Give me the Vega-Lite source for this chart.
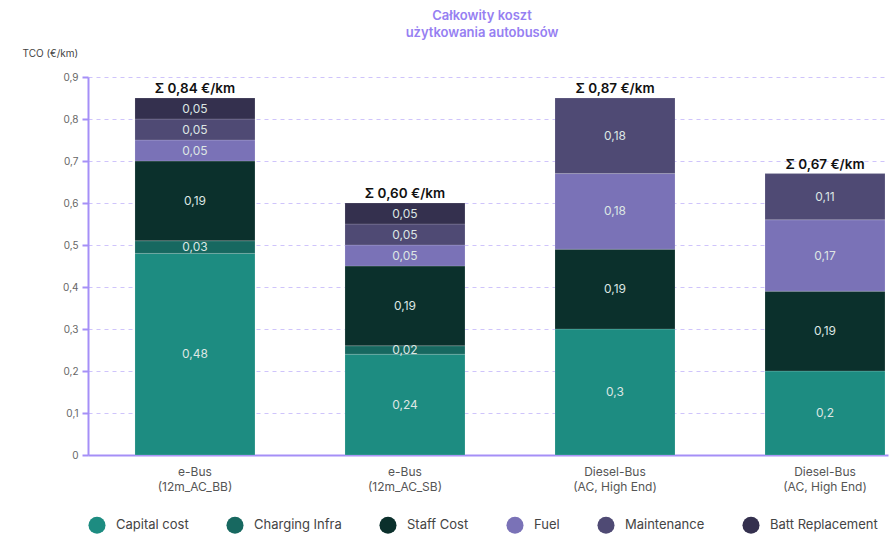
{
  "$schema": "https://vega.github.io/schema/vega-lite/v6.json",
  "autosize": "none",
  "width": 800,
  "height": 378,
  "padding": {"left": 88, "top": 77, "right": 4, "bottom": 81},
  "background": "white",
  "title": {
    "text": ["Całkowity koszt", "użytkowania autobusów"],
    "color": "#9680f2",
    "fontSize": 13,
    "fontWeight": 600,
    "lineHeight": 17,
    "anchor": "middle",
    "dx": -6,
    "offset": 8
  },
  "data": {
    "values": [
      {"bus": "e-Bus|(12m_AC_BB)|1", "cost": "Capital cost", "value": 0.48, "total": 0.84},
      {"bus": "e-Bus|(12m_AC_BB)|1", "cost": "Charging Infra", "value": 0.03, "total": 0.84},
      {"bus": "e-Bus|(12m_AC_BB)|1", "cost": "Staff Cost", "value": 0.19, "total": 0.84},
      {"bus": "e-Bus|(12m_AC_BB)|1", "cost": "Fuel", "value": 0.05, "total": 0.84},
      {"bus": "e-Bus|(12m_AC_BB)|1", "cost": "Maintenance", "value": 0.05, "total": 0.84},
      {"bus": "e-Bus|(12m_AC_BB)|1", "cost": "Batt Replacement", "value": 0.05, "total": 0.84},
      {"bus": "e-Bus|(12m_AC_SB)|2", "cost": "Capital cost", "value": 0.24, "total": 0.60},
      {"bus": "e-Bus|(12m_AC_SB)|2", "cost": "Charging Infra", "value": 0.02, "total": 0.60},
      {"bus": "e-Bus|(12m_AC_SB)|2", "cost": "Staff Cost", "value": 0.19, "total": 0.60},
      {"bus": "e-Bus|(12m_AC_SB)|2", "cost": "Fuel", "value": 0.05, "total": 0.60},
      {"bus": "e-Bus|(12m_AC_SB)|2", "cost": "Maintenance", "value": 0.05, "total": 0.60},
      {"bus": "e-Bus|(12m_AC_SB)|2", "cost": "Batt Replacement", "value": 0.05, "total": 0.60},
      {"bus": "Diesel-Bus|(AC, High End)|3", "cost": "Capital cost", "value": 0.3, "total": 0.87},
      {"bus": "Diesel-Bus|(AC, High End)|3", "cost": "Staff Cost", "value": 0.19, "total": 0.87},
      {"bus": "Diesel-Bus|(AC, High End)|3", "cost": "Fuel", "value": 0.18, "total": 0.87},
      {"bus": "Diesel-Bus|(AC, High End)|3", "cost": "Maintenance", "value": 0.18, "total": 0.87},
      {"bus": "Diesel-Bus|(AC, High End)|4", "cost": "Capital cost", "value": 0.2, "total": 0.67},
      {"bus": "Diesel-Bus|(AC, High End)|4", "cost": "Staff Cost", "value": 0.19, "total": 0.67},
      {"bus": "Diesel-Bus|(AC, High End)|4", "cost": "Fuel", "value": 0.17, "total": 0.67},
      {"bus": "Diesel-Bus|(AC, High End)|4", "cost": "Maintenance", "value": 0.11, "total": 0.67}
    ]
  },
  "transform": [
    {"calculate": "indexof(['Capital cost','Charging Infra','Staff Cost','Fuel','Maintenance','Batt Replacement'], datum.cost)", "as": "rank"},
    {"stack": "value", "groupby": ["bus"], "sort": [{"field": "rank", "order": "ascending"}], "as": ["y0", "y1"]},
    {"calculate": "(datum.y0 + datum.y1) / 2", "as": "mid"}
  ],
  "encoding": {
    "x": {
      "field": "bus",
      "type": "nominal",
      "sort": null,
      "title": null,
      "scale": {"paddingInner": 0.4286, "paddingOuter": 0.119, "align": 0.94},
      "axis": {
        "labelExpr": "split(datum.label, '|', 2)",
        "labelAngle": 0,
        "labelColor": "#555555",
        "labelFontSize": 12,
        "labelLineHeight": 15,
        "labelPadding": 11,
        "ticks": false,
        "grid": false,
        "domainColor": "#a58ff7",
        "domainWidth": 2
      }
    }
  },
  "layer": [
    {
      "mark": {"type": "bar", "stroke": "#ffffff", "strokeWidth": 0.6, "strokeOpacity": 0.25},
      "encoding": {
        "y": {
          "field": "y0",
          "type": "quantitative",
          "scale": {"domain": [0, 0.9], "nice": false},
          "title": "TCO (€/km)",
          "axis": {
            "values": [0, 0.1, 0.2, 0.3, 0.4, 0.5, 0.6, 0.7, 0.8, 0.9],
            "format": ".1~f",
            "labelColor": "#666666",
            "labelFontSize": 10,
            "labelPadding": 4,
            "tickSize": 6,
            "tickWidth": 2,
            "tickColor": "#a58ff7",
            "domainColor": "#a58ff7",
            "domainWidth": 2,
            "grid": true,
            "gridColor": "#cfc4fb",
            "gridDash": [4, 4],
            "gridWidth": 1,
            "titleAngle": 0,
            "titleAlign": "left",
            "titleBaseline": "middle",
            "titleX": -66,
            "titleY": -24,
            "titleFontSize": 10,
            "titleFontWeight": "normal",
            "titleColor": "#444444"
          }
        },
        "y2": {"field": "y1"},
        "color": {
          "field": "cost",
          "type": "nominal",
          "scale": {
            "domain": ["Capital cost", "Charging Infra", "Staff Cost", "Fuel", "Maintenance", "Batt Replacement"],
            "range": ["#1d8c81", "#176860", "#0b302c", "#7a72b7", "#4f4a74", "#34304e"]
          },
          "legend": {
            "orient": "none",
            "legendX": 0,
            "legendY": 439,
            "direction": "horizontal",
            "title": null,
            "symbolType": "circle",
            "symbolSize": 290,
            "symbolStrokeWidth": 0,
            "symbolOpacity": 1,
            "labelFontSize": 13,
            "labelColor": "#444444",
            "labelOffset": 10,
            "columnPadding": 37,
            "padding": 0
          }
        }
      }
    },
    {
      "mark": {"type": "text", "color": "#dde6e4", "fontSize": 12, "baseline": "middle"},
      "encoding": {
        "y": {"field": "mid", "type": "quantitative"},
        "text": {"field": "value", "type": "quantitative", "format": ".2~f"}
      }
    },
    {
      "transform": [
        {"aggregate": [{"op": "sum", "field": "value", "as": "top"}, {"op": "max", "field": "total", "as": "total"}], "groupby": ["bus"]},
        {"calculate": "'Σ ' + format(datum.total, '.2f') + ' €/km'", "as": "sumLabel"}
      ],
      "mark": {"type": "text", "color": "#111111", "fontSize": 13.5, "fontWeight": 600, "baseline": "middle", "dy": -9},
      "encoding": {
        "y": {"field": "top", "type": "quantitative"},
        "text": {"field": "sumLabel"}
      }
    }
  ],
  "config": {
    "font": "Inter",
    "view": {"stroke": null},
    "locale": {
      "number": {"decimal": ",", "thousands": " ", "grouping": [3], "currency": ["", " €"]}
    }
  }
}
